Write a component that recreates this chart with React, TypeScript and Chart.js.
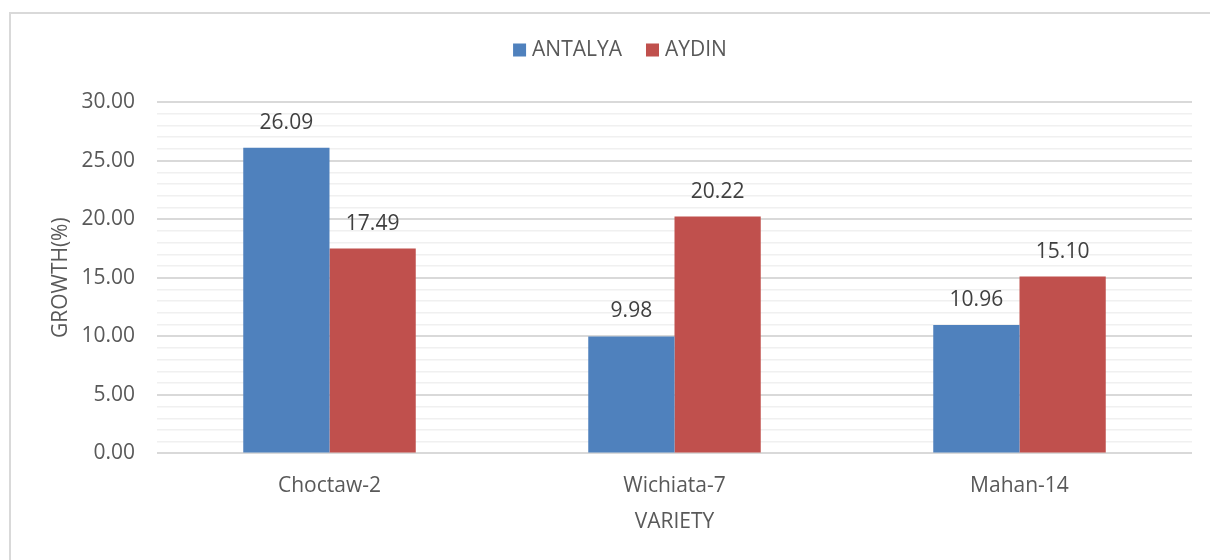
import React, { useEffect, useRef } from "react";
import { Chart, registerables } from "chart.js";

Chart.register(...registerables);

const categories = ["Choctaw-2", "Wichiata-7", "Mahan-14"];
const antalya = [26.09, 9.98, 10.96];
const aydin = [17.49, 20.22, 15.1];
const seriesNames = ["ANTALYA", "AYDIN"];
const yMin = 0;
const yMax = 30;
const yMinorStep = 1;
const yMajorStep = 5;

const FONT = "'Open Sans', sans-serif";
const TEXT = "#595959";

const framePlugin = {
  id: "frame",
  beforeDraw(chart: any) {
    const { ctx } = chart;
    ctx.save();
    ctx.fillStyle = "#ffffff";
    ctx.fillRect(0, 0, chart.width, chart.height);
    ctx.strokeStyle = "#d9d9d9";
    ctx.lineWidth = 2;
    ctx.strokeRect(10, 13, chart.width + 100, chart.height + 100);
    ctx.restore();
  },
};

// Legend drawn above the plot, centred on the canvas width.
const topLegendPlugin = {
  id: "topLegend",
  afterDraw(chart: any) {
    const { ctx } = chart;
    const box = 13;
    const boxGap = 6;
    const itemGap = 24;
    const cy = 50;
    ctx.save();
    ctx.font = `21px ${FONT}`;
    ctx.textBaseline = "middle";
    ctx.textAlign = "left";
    const items = chart.data.datasets.map((ds: any) => ({
      text: ds.label as string,
      color: ds.backgroundColor as string,
      w: ctx.measureText(ds.label).width,
    }));
    const total =
      items.reduce((s: number, it: any) => s + box + boxGap + it.w, 0) + itemGap * (items.length - 1);
    const centre = (chart.chartArea.left - 109 + chart.chartArea.right) / 2;
    let x = centre - total / 2;
    items.forEach((it: any) => {
      ctx.fillStyle = it.color;
      ctx.fillRect(x, cy - box / 2, box, box);
      ctx.fillStyle = TEXT;
      ctx.fillText(it.text, x + box + boxGap, cy);
      x += box + boxGap + it.w + itemGap;
    });
    ctx.restore();
  },
};

const valueLabelPlugin = {
  id: "valueLabels",
  afterDatasetsDraw(chart: any) {
    const { ctx } = chart;
    ctx.save();
    ctx.font = `21px ${FONT}`;
    ctx.fillStyle = "#404040";
    ctx.textAlign = "center";
    ctx.textBaseline = "middle";
    chart.data.datasets.forEach((ds: any, i: number) => {
      const meta = chart.getDatasetMeta(i);
      meta.data.forEach((el: any, j: number) => {
        const v = ds.data[j] as number;
        ctx.fillText(v.toFixed(2), el.x, el.y - 25);
      });
    });
    ctx.restore();
  },
};

export default function App() {
  const ref = useRef<HTMLCanvasElement | null>(null);
  useEffect(() => {
    if (!ref.current) return;
    const chart = new Chart(ref.current, {
      type: "bar",
      data: {
        labels: categories,
        datasets: [
          {
            label: seriesNames[0],
            data: antalya,
            backgroundColor: "#4f81bd",
            categoryPercentage: 0.5,
            barPercentage: 1.0,
          },
          {
            label: seriesNames[1],
            data: aydin,
            backgroundColor: "#c0504d",
            categoryPercentage: 0.5,
            barPercentage: 1.0,
          },
        ],
      },
      options: {
        responsive: false,
        animation: false,
        devicePixelRatio: 1,
        layout: { padding: { left: 48, right: 18, top: 102, bottom: 25 } },
        plugins: {
          legend: { display: false },
          tooltip: { enabled: false },
        },
        scales: {
          x: {
            grid: { display: false, drawTicks: false },
            border: { display: false },
            ticks: { color: TEXT, font: { family: FONT, size: 21 }, padding: 20 },
            title: {
              display: true,
              text: "VARIETY",
              color: TEXT,
              font: { family: FONT, size: 21 },
              padding: { top: 0, bottom: 0 },
            },
            afterFit(scale: any) {
              scale.height = 81.6;
            },
          },
          y: {
            min: yMin,
            max: yMax,
            grid: {
              drawTicks: false,
              color: (c: any) => (c.tick && c.tick.value % yMajorStep === 0 ? "#d9d9d9" : "#f0f0f0"),
              lineWidth: (c: any) => (c.tick && c.tick.value % yMajorStep === 0 ? 2 : 1.5),
            },
            border: { display: false },
            ticks: {
              stepSize: yMinorStep,
              autoSkip: false,
              color: TEXT,
              font: { family: FONT, size: 21 },
              padding: 22,
              callback: (v: any) => (Number(v) % yMajorStep === 0 ? Number(v).toFixed(2) : ""),
            },
            title: {
              display: true,
              text: "GROWTH(%)",
              color: TEXT,
              font: { family: FONT, size: 21 },
              padding: { top: 0, bottom: 0 },
            },
            afterFit(scale: any) {
              scale.width = 109;
            },
          },
        },
      },
      plugins: [framePlugin, valueLabelPlugin, topLegendPlugin],
    } as any);
    return () => chart.destroy();
  }, []);
  return (
    <div style={{ position: "fixed", left: 0, top: 0, width: 1210, height: 560, background: "#fff" }}>
      <canvas ref={ref} width={1210} height={560} />
    </div>
  );
}
